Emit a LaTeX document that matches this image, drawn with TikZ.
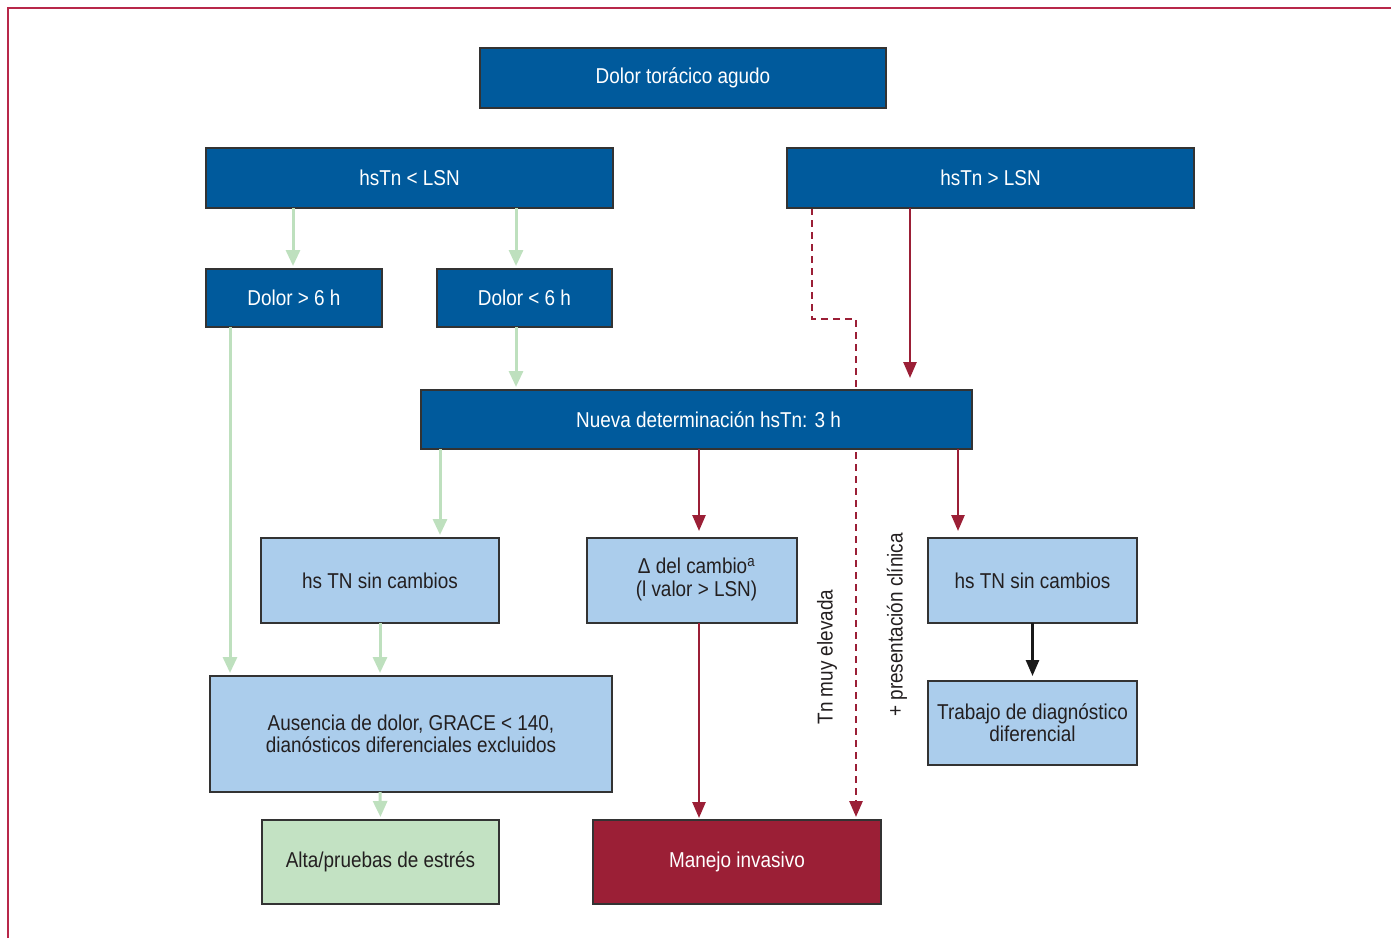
\documentclass[tikz,border=0pt]{standalone}
\usepackage{fontspec}
\setmainfont{Liberation Sans}[FakeStretch=0.88]
\usetikzlibrary{arrows.meta,backgrounds}
\definecolor{dblue}{HTML}{005A9C}
\definecolor{lblue}{HTML}{ABCDEC}
\definecolor{lgreen}{HTML}{C3E2C3}
\definecolor{garrow}{HTML}{BEE0BE}
\definecolor{crim}{HTML}{9B1F36}
\definecolor{frame}{HTML}{B8284A}
\definecolor{txt}{HTML}{231F20}
\tikzset{
  box/.style={draw=black!80, line width=1.4pt, inner sep=0pt, outer sep=0pt, align=center,
    font=\fontsize{21.5}{22}\selectfont},
  darkbox/.style={box, fill=dblue, text=white},
  lightbox/.style={box, fill=lblue, text=txt},
  greenbox/.style={box, fill=lgreen, text=txt},
  redbox/.style={box, fill=crim, text=white},
  ga/.style={draw=garrow, line width=3pt, -{Triangle[width=14pt,length=16pt]}, shorten >=3pt},
  ra/.style={draw=crim, line width=2.6pt, -{Triangle[width=13pt,length=16pt]}, shorten >=7pt},
  ka/.style={draw=black!90, line width=2.6pt, -{Triangle[width=13pt,length=16pt]}, shorten >=5pt},
  da/.style={draw=crim, line width=2.8pt, dash pattern=on 7pt off 5pt, -{Triangle[width=13pt,length=16pt]}, shorten >=3pt},
  vlabel/.style={rotate=90, text=txt, font=\fontsize{21.5}{22}\selectfont}
}
\begin{document}
\begin{tikzpicture}[x=1pt,y=-1pt]
\useasboundingbox (0,0) rectangle (1391,938);
\draw[frame, line width=1.5pt] (8,938) -- (8,8) -- (1391,8);

\node[darkbox, minimum width=406, minimum height=60] (top) at (683,78) {\raisebox{-1pt}{Dolor torácico agudo}};
\node[darkbox, minimum width=407, minimum height=60] (hsl) at (409.5,178) {hsTn < LSN};
\node[darkbox, minimum width=407, minimum height=60] (hsg) at (990.5,178) {hsTn > LSN};
\node[darkbox, minimum width=176, minimum height=58] (dg) at (294,298) {Dolor > 6 h};
\node[darkbox, minimum width=175, minimum height=58] (dl) at (524.5,298) {Dolor < 6 h};
\node[darkbox, minimum width=551, minimum height=59] (nue) at (696.5,419.5) {\hspace*{24pt}Nueva determinación hsTn: 3 h};
\node[lightbox, minimum width=238, minimum height=85] (sc1) at (380,580.5) {hs TN sin cambios};
\node[lightbox, minimum width=210, minimum height=85] (del) at (692,580.5) {\hspace*{9pt}\begin{tabular}{@{}c@{}}Δ del cambio\textsuperscript{a}\\(l valor > LSN)\end{tabular}};
\node[lightbox, minimum width=209, minimum height=85] (sc2) at (1032.5,580.5) {hs TN sin cambios};
\node[lightbox, minimum width=402, minimum height=116] (aus) at (411,734) {Ausencia de dolor, GRACE < 140,\\dianósticos diferenciales excluidos};
\node[lightbox, minimum width=209, minimum height=84] (tra) at (1032.5,723) {Trabajo de diagnóstico\\diferencial};
\node[greenbox, minimum width=237, minimum height=84] (alt) at (380.5,862) {Alta/pruebas de estrés};
\node[redbox, minimum width=288, minimum height=84] (man) at (737,862) {Manejo invasivo};

\node[vlabel] (l1) at (827,657) {Tn muy elevada};
\node[vlabel] (l2) at (897,625) {+ presentación clínica};

% green connectors
\coordinate (g1) at ([xshift=87]hsl.south west);
\coordinate (g2) at ([xshift=310]hsl.south west);
\coordinate (g3) at ([xshift=24]dg.south west);
\coordinate (g4) at ([xshift=79]dl.south west);
\coordinate (g5) at ([xshift=19]nue.south west);
\draw[ga] (g1) -- (g1 |- dg.north);
\draw[ga] (g2) -- (g2 |- dl.north);
\draw[ga] (g3) -- (g3 |- aus.north);
\draw[ga] (g4) -- (g4 |- nue.north);
\draw[ga] (g5) -- (g5 |- sc1.north);
\draw[ga] (sc1.south) -- (sc1.south |- aus.north);
\draw[ga] (sc1.south |- aus.south) -- (alt.north);

% red connectors
\coordinate (r1) at ([xshift=123]hsg.south west);
\coordinate (r2) at ([xshift=278]nue.south west);
\coordinate (r3) at ([xshift=537]nue.south west);
\draw[ra, shorten >=12pt] (r1) -- (r1 |- nue.north);
\draw[ra] (r2) -- (r2 |- del.north);
\draw[ra] (r3) -- (r3 |- sc2.north);
\draw[ra, shorten >=2pt] (r2 |- del.south) -- (r2 |- man.north);
\draw[ka] (sc2.south) -- (tra.north);

% dashed connector (behind the Nueva box)
\coordinate (d1) at ([xshift=25]hsg.south west);
\coordinate (d2) at ([xshift=263]man.north west);
\begin{scope}[on background layer]
\draw[da] (d1) -- ++(0,111) -| (d2);
\end{scope}
\end{tikzpicture}
\end{document}
